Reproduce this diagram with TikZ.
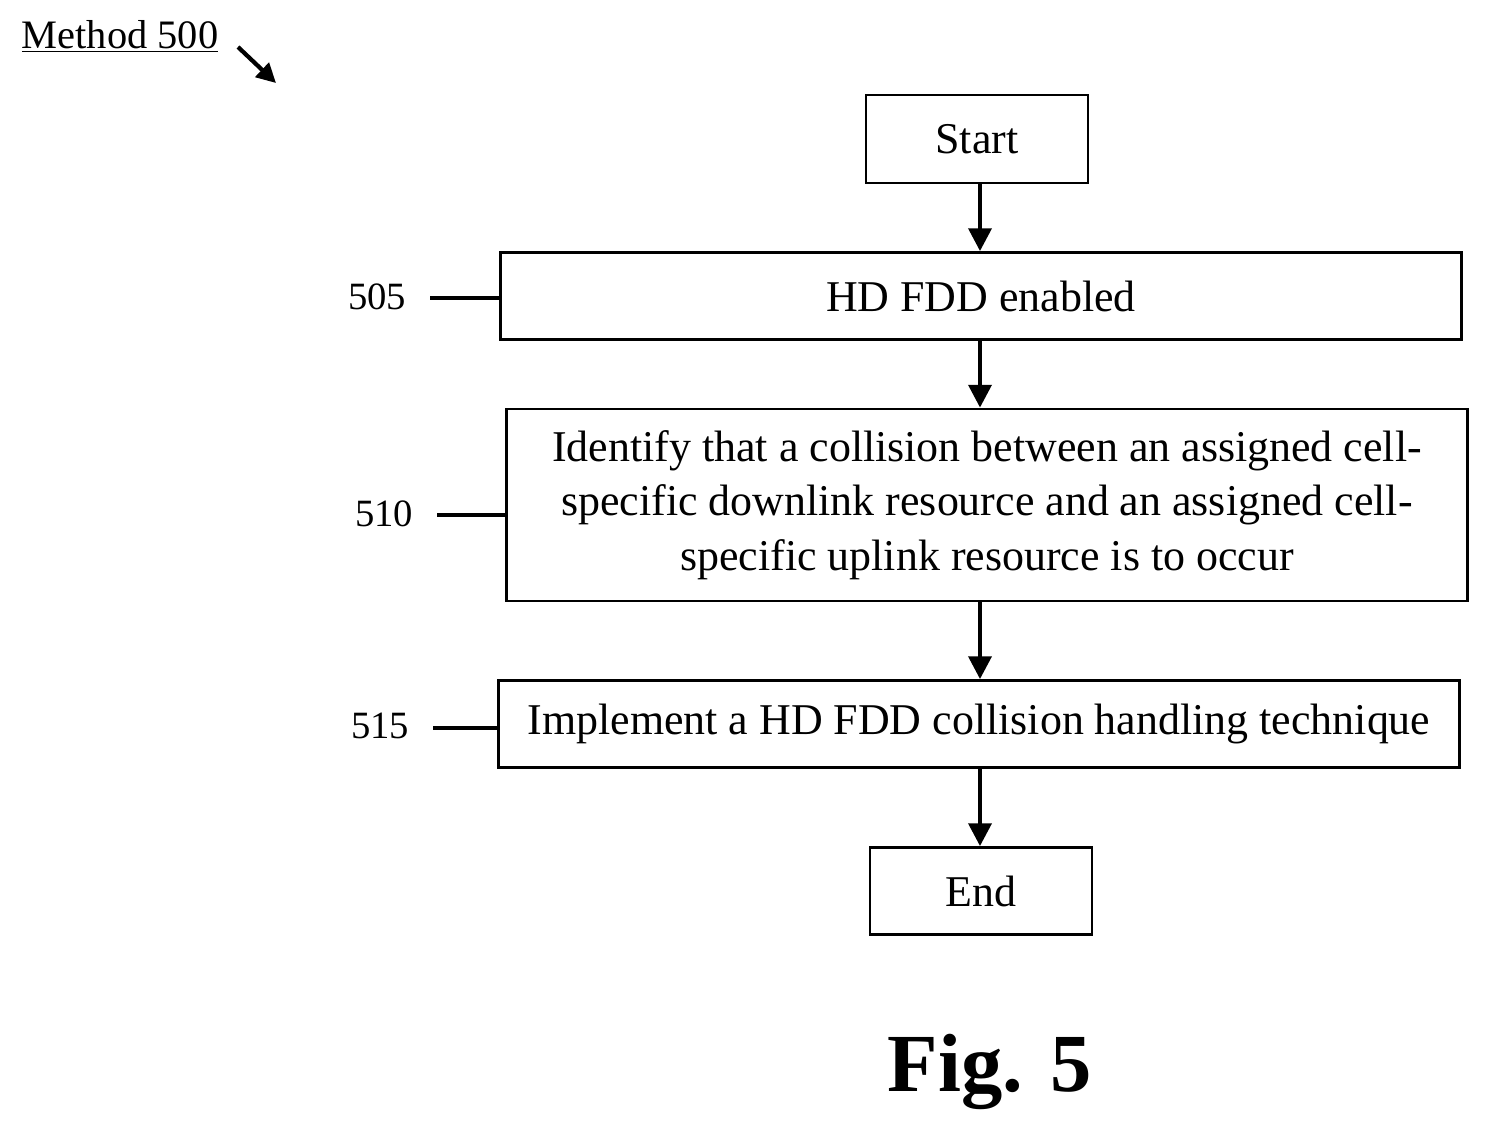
\documentclass[tikz,border=0pt]{standalone}
\usepackage{fontspec}
\setmainfont{Liberation Serif}
\usepackage{tikz}
\usetikzlibrary{arrows.meta}

\begin{document}
\begin{tikzpicture}[x=0.02cm, y=-0.02cm,
    box/.style={draw, line width=1.6pt, align=center, inner sep=0pt, font=\fontsize{25}{28}\selectfont},
    flow/.style={line width=2.4pt, -{Triangle[length=13pt, width=13pt]}},
    tag/.style={font=\fontsize{22}{26}\selectfont},
    lead/.style={line width=2.2pt}]
\useasboundingbox (0,0) rectangle (1491,1137);

\node [box, minimum width=222*0.02cm, minimum height=88*0.02cm] (start) at (977,139) {Start};
\node [box, minimum width=961*0.02cm, minimum height=87*0.02cm] (enable) at (981,296) {HD FDD enabled};
\node [box, minimum width=961*0.02cm, minimum height=192*0.02cm] (ident) at (987,505)
    {Identify that a collision between an assigned cell-\\[3pt]specific downlink resource and an assigned cell-\\[3pt]specific uplink resource is to occur};
\node [box, minimum width=961*0.02cm, minimum height=87*0.02cm] (impl) at (979,724) {Implement a HD FDD collision handling technique};
\node [box, minimum width=222*0.02cm, minimum height=87*0.02cm] (end) at (981,891) {End};

\draw [flow] (start.south -| 980,0) -- (enable.north -| 980,0);
\draw [flow] (enable.south -| 980,0) -- (ident.north -| 980,0);
\draw [flow] (ident.south -| 980,0) -- (impl.north -| 980,0);
\draw [flow] (impl.south -| 980,0) -- (end.north -| 980,0);

% reference numerals
\node [tag] (n505) at (377,297) {505};
\node [tag] (n510) at (384,514) {510};
\node [tag] (n515) at (380,726) {515};
\draw [lead] (430,298) -- (enable.west |- 0,298);
\draw [lead] (437,515) -- (ident.west |- 0,515);
\draw [lead] (433,728) -- (impl.west |- 0,728);

\node [font=\fontsize{23}{26}\selectfont] (method) at (120,36) {\underline{Method 500}};
\coordinate (mtail) at (238,47);
\coordinate (mhead) at (276,83);
\draw [line width=2.4pt, -{Triangle[length=11pt, width=11pt]}] (mtail) -- (mhead);

\node [font=\bfseries\fontsize{47}{52}\selectfont] (fig) at (990,1072) {Fig. 5};
\end{tikzpicture}
\end{document}
